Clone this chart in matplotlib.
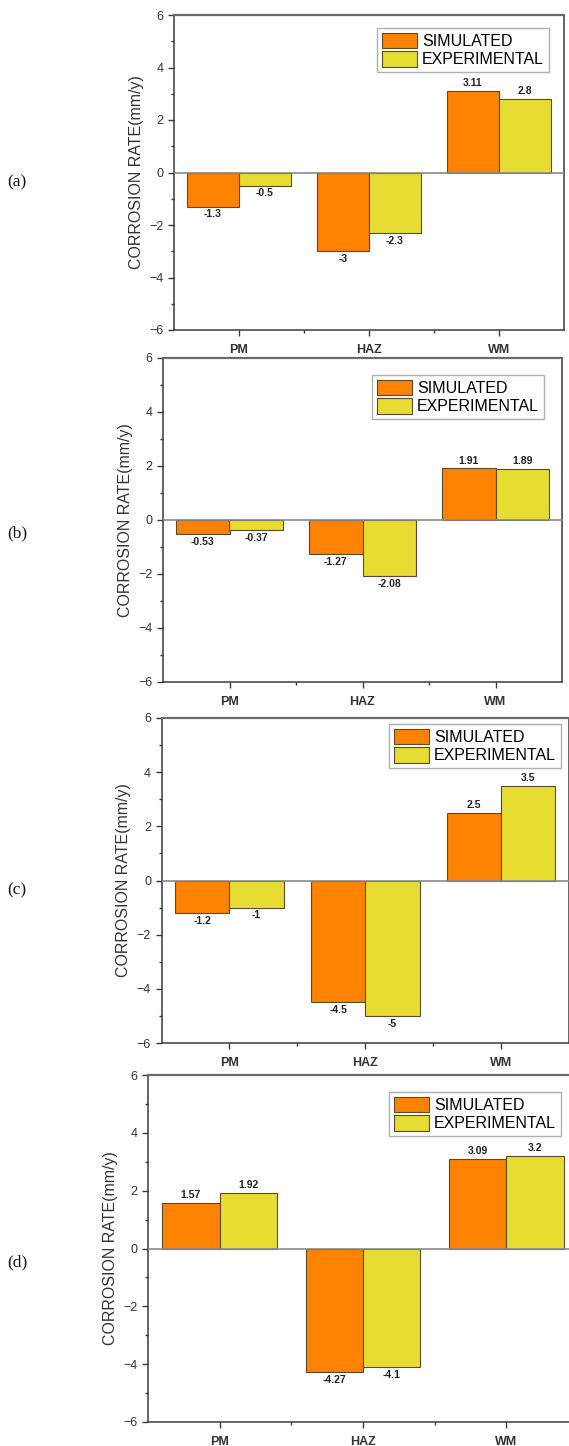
import numpy as np
import matplotlib
matplotlib.use("Agg")
import matplotlib.pyplot as plt
from matplotlib.ticker import MultipleLocator, FixedLocator

zones = ["PM", "HAZ", "WM"]
series_names = ["SIMULATED", "EXPERIMENTAL"]
panel_tags = ["(a)", "(b)", "(c)", "(d)"]

sim_a = [-1.3, -3, 3.11]
exp_a = [-0.5, -2.3, 2.8]
sim_b = [-0.53, -1.27, 1.91]
exp_b = [-0.37, -2.08, 1.89]
sim_c = [-1.2, -4.5, 2.5]
exp_c = [-1, -5, 3.5]
sim_d = [1.57, -4.27, 3.09]
exp_d = [1.92, -4.1, 3.2]

yticks = [-6, -4, -2, 0, 2, 4, 6]

# pixel boxes of each panel: left, right, top, bottom (axes) and legend corner
W, H = 569, 1446
boxes = [
    (174, 564, 15, 330, 549, 28, 182),
    (163, 562, 358, 682, 544, 375, 533),
    (161.5, 569, 718, 1043, 561, 724, 890),
    (148, 578, 1075, 1422, 561, 1092, 1262),
]
data = [(sim_a, exp_a), (sim_b, exp_b), (sim_c, exp_c), (sim_d, exp_d)]

c_sim = "#ff8200"
c_exp = "#e6dc32"
edge = "#5a4a2a"
axcol = "#3a3a3a"

plt.rcParams["font.family"] = ["Liberation Sans", "DejaVu Sans"]

fig = plt.figure(figsize=(W / 100, H / 100), dpi=100)
fig.patch.set_facecolor("white")

x = np.arange(1, len(zones) + 1)
bw = 0.4

for (L, R, T, B, lx, ly, ty), (sim, exp), tag in zip(boxes, data, panel_tags):
    ax = fig.add_axes([L / W, 1 - B / H, (R - L) / W, (B - T) / H])
    b1 = ax.bar(x - bw / 2, sim, bw, color=c_sim, edgecolor=edge, linewidth=0.8,
                label=series_names[0], zorder=3)
    b2 = ax.bar(x + bw / 2, exp, bw, color=c_exp, edgecolor=edge, linewidth=0.8,
                label=series_names[1], zorder=3)
    ax.bar_label(b1, labels=[f"{v:g}" for v in sim], padding=2, fontsize=7.5,
                 fontweight="bold", color="#222222")
    ax.bar_label(b2, labels=[f"{v:g}" for v in exp], padding=2, fontsize=7.5,
                 fontweight="bold", color="#222222")
    ax.axhline(0, color="#8a8a8a", lw=1.2, zorder=4)

    ax.set_xlim(0.5, 3.5)
    ax.set_ylim(-6, 6)
    ax.set_xticks(x)
    ax.set_xticklabels(zones, fontweight="bold", fontsize=9, color="#222222")
    ax.xaxis.set_minor_locator(FixedLocator([1.5, 2.5]))
    ax.set_yticks(yticks)
    ax.yaxis.set_minor_locator(MultipleLocator(1))
    ax.tick_params(axis="both", which="major", direction="out", length=4,
                   width=1, color=axcol, labelsize=9, labelcolor="#333333")
    ax.tick_params(axis="both", which="minor", direction="out", length=2.5,
                   width=1, color=axcol)
    ax.tick_params(axis="x", pad=6)
    for s in ax.spines.values():
        s.set_color(axcol)
        s.set_linewidth(1.1)
    ax.spines["top"].set_color("#6a6a6a")
    ax.spines["top"].set_linewidth(1.6)

    ax.set_ylabel("CORROSION RATE(mm/y)", fontsize=11.5, color="#333333", labelpad=4)

    ax.legend(loc="upper right", bbox_to_anchor=(lx / W, 1 - ly / H),
              bbox_transform=fig.transFigure, fontsize=11.5, frameon=True,
              fancybox=False, edgecolor="#b0b0b0", framealpha=1,
              handlelength=2.2, handleheight=1.1, handletextpad=0.3,
              labelspacing=0.15, borderpad=0.3, borderaxespad=0)

    fig.text(7 / W, 1 - ty / H, tag, family=["Liberation Serif", "DejaVu Serif"],
             fontsize=12.5, va="center", ha="left", color="#111111")

fig.savefig("out.png", dpi=100, facecolor="white")
